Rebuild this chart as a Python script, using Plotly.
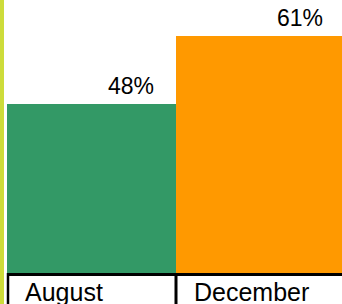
import plotly.graph_objects as go

categories = ["August", "December"]
values = [48, 61]
value_labels = ["48%", "61%"]
bar_colors = ["#339966", "#FF9900"]
y_range = [15.7, 67.9]
x_range = [-0.5, 1.5]

fig = go.Figure()
fig.add_trace(go.Bar(
    x=list(range(len(categories))),
    y=values,
    marker=dict(color=bar_colors, line=dict(width=0)),
    width=1.0,
    hoverinfo="skip",
))

font_family = "Arial, Liberation Sans, sans-serif"
annotations = []
for i, (v, lab) in enumerate(zip(values, value_labels)):
    annotations.append(dict(
        x=i, y=v, xref="x", yref="y", text=lab, showarrow=False,
        xanchor="center", yanchor="bottom", xshift=39, yshift=3,
        font=dict(family=font_family, size=23, color="#000000"),
    ))
for i, cat in enumerate(categories):
    annotations.append(dict(
        x=i - 0.5, y=0, xref="x", yref="paper", text=cat, showarrow=False,
        xanchor="left", yanchor="top", xshift=16, yshift=-3,
        font=dict(family=font_family, size=25, color="#000000"),
    ))

W = 338.0  # plot-area width in px
shapes = [
    # yellow-green left rule
    dict(type="rect", xref="paper", yref="paper", x0=-9/W, x1=-3/W, y0=-0.2, y1=1.01,
         fillcolor="#cddc3a", line=dict(width=0), layer="above"),
    # horizontal black line under bars
    dict(type="line", xref="paper", yref="paper", x0=0, x1=1, y0=-1.5/273, y1=-1.5/273,
         line=dict(color="#000000", width=3), layer="above"),
    # left label border
    dict(type="line", xref="paper", yref="paper", x0=1/W, x1=1/W, y0=0, y1=-0.2,
         line=dict(color="#000000", width=2.5), layer="above"),
    # separator between category cells
    dict(type="line", xref="x", yref="paper", x0=0.5, x1=0.5, y0=0, y1=-0.2,
         line=dict(color="#000000", width=3), layer="above"),
]

fig.update_layout(
    width=345, height=304,
    margin=dict(l=7, r=0, t=0, b=31, pad=0),
    paper_bgcolor="#ffffff", plot_bgcolor="#ffffff",
    showlegend=False,
    bargap=0,
    xaxis=dict(range=x_range, visible=False, fixedrange=True),
    yaxis=dict(range=y_range, visible=False, fixedrange=True),
    annotations=annotations,
    shapes=shapes,
    font=dict(family=font_family),
)

fig.write_html(
    "out.html",
    config={"displayModeBar": False},
    post_script="document.body.style.margin='0';document.body.style.padding='0';"
                "document.body.style.overflow='hidden';"
                "document.documentElement.style.overflow='hidden';",
)
